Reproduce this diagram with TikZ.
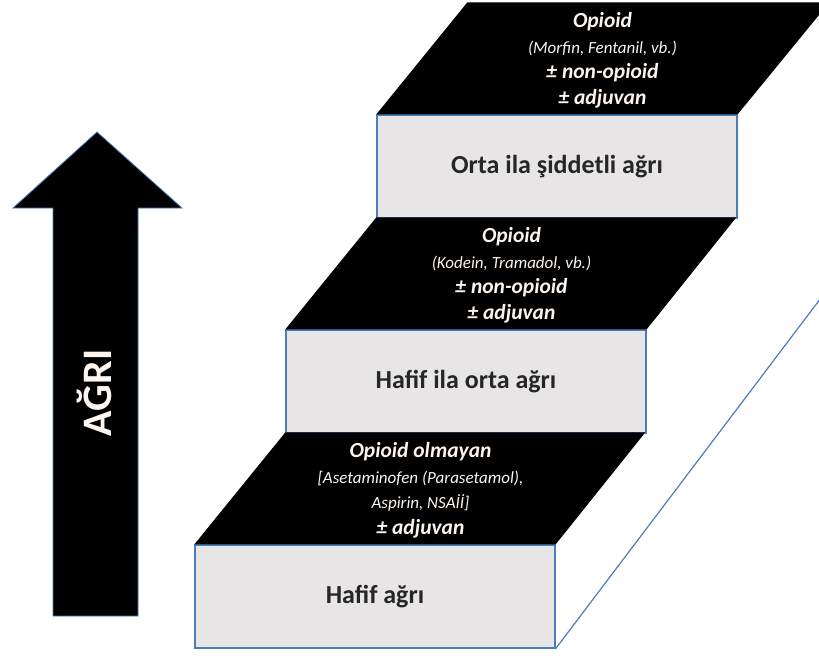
\documentclass[tikz,border=0pt]{standalone}
\usepackage{fontspec}
\setmainfont{Carlito}
\usepackage{tikz}
\usetikzlibrary{positioning,calc}

\definecolor{boxgray}{RGB}{231,229,229}
\definecolor{edgeblue}{RGB}{74,126,187}
\definecolor{paletext}{RGB}{252,244,238}
\newcommand{\drugfont}{\fontsize{17}{25.5}\selectfont\mdseries\itshape}

\begin{document}
\begin{tikzpicture}[x=1pt,y=-1pt,
    stepbox/.style={draw=edgeblue, line width=1.3pt, fill=boxgray, minimum width=360pt, minimum height=103pt, inner sep=0pt, text=black!85, font=\fontsize{26}{30}\selectfont\bfseries},
    toptext/.style={text=paletext, align=center, font=\fontsize{21.5}{25.5}\selectfont\bfseries\itshape}]
    \useasboundingbox (0,0) rectangle (819,658);

    % pain arrow
    \draw[edgeblue, line width=0.8pt, fill=black] (53,616) -- (53,208) -- (13,208) -- (97,132) -- (182,208) -- (138,208) -- (138,616) -- cycle;
    \node[rotate=90, text=paletext, font=\fontsize{42}{46}\selectfont\bfseries] (agri) at (94,393) {AĞRI};

    % the three steps
    \node[stepbox] (hafif) at (375,596.5) {Hafif ağrı};
    \node[stepbox] (hafiforta) at (466,381.5) {Hafif ila orta ağrı};
    \node[stepbox] (orta) at (557,166.5) {Orta ila şiddetli ağrı};

    % black tops
    \fill[black] (hafif.north west) -- ++(91,-112) -- ++(360,0) -- (hafif.north east) -- cycle;
    \fill[black] (hafiforta.north west) -- ++(91,-112) -- ++(360,0) -- (hafiforta.north east) -- cycle;
    \fill[black] (orta.north west) -- ++(91,-112) -- ++(362,0) -- (orta.north east) -- cycle;

    \node[toptext] (basamak1) at ($(hafif.north)+(45.5,-54)$) {Opioid olmayan\\ {\drugfont [Asetaminofen (Parasetamol),}\\ {\drugfont Aspirin, NSAİİ]}\\ ± adjuvan};
    \node[toptext] (basamak2) at ($(hafiforta.north)+(45.5,-54)$) {Opioid\\ {\drugfont (Kodein, Tramadol, vb.)}\\ ± non-opioid\\ ± adjuvan};
    \node[toptext] (basamak3) at ($(orta.north)+(45.5,-54)$) {Opioid\\ {\drugfont (Morfin, Fentanil, vb.)}\\ ± non-opioid\\ ± adjuvan};

    % side edge
    \coordinate (kenar) at (830,286);
    \draw[edgeblue, line width=1.2pt] (hafif.south east) -- (kenar);
\end{tikzpicture}
\end{document}
